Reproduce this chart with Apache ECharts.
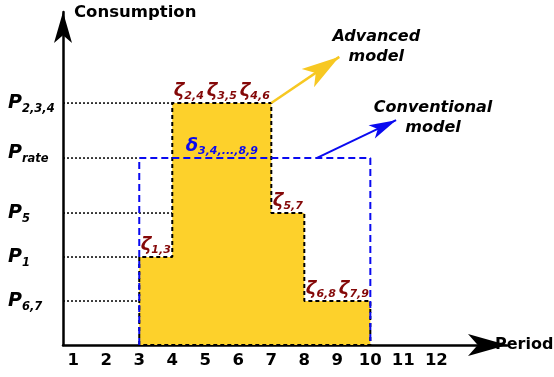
<!DOCTYPE html>
<html>
<head>
<meta charset="utf-8">
<script src="https://cdn.jsdelivr.net/npm/echarts@6/dist/echarts.min.js"></script>
<style>
  html, body { margin: 0; padding: 0; background: #fff; }
  #chart { width: 554px; height: 377px; }
</style>
</head>
<body>
<div id="chart"></div>
<script>
// Periods on the horizontal axis
const periods = [1, 2, 3, 4, 5, 6, 7, 8, 9, 10, 11, 12];

// Consumption levels on the vertical axis (subscript of P, and value)
const levelNames = ['6,7', '1', '5', 'rate', '2,3,4'];
const levelValues = [1, 2, 3, 4.25, 5.5];
// period where each dotted guide meets the profiles
const levelGuideEnd = [3, 3, 4, 3, 4];

// Advanced model: stepwise consumption profile
const advStart = [3, 4, 7, 8];
const advEnd = [4, 7, 8, 10];
const advLevel = [2, 5.5, 3, 1];
// zeta subscripts, one per period 3..9
const zetaPeriods = [3, 4, 5, 6, 7, 8, 9];
const zetaSubs = ['1,3', '2,4', '3,5', '4,6', '5,7', '6,8', '7,9'];

// Conventional model: flat consumption at the rated level
const convStart = 3;
const convEnd = 10;
const convLevel = 4.25;
const deltaPeriod = 5;
const deltaSub = '3,4,...,8,9';

// ---- derived geometry ----
const advOutline = [[advStart[0], 0]];
advStart.forEach((s, i) => {
  advOutline.push([s, advLevel[i]]);
  advOutline.push([advEnd[i], advLevel[i]]);
});
advOutline.push([advEnd[advEnd.length - 1], 0]);
advOutline.push([advStart[0], 0]);

const convOutline = [[convStart, 0], [convStart, convLevel], [convEnd, convLevel], [convEnd, 0]];

function advLevelAt(p) {
  for (let i = 0; i < advStart.length; i++) {
    if (p >= advStart[i] && p < advEnd[i]) return advLevel[i];
  }
  return 0;
}

const FONT = 'DejaVu Sans';
const RED = '#840808';
const BLUE = '#0a0af0';
const GOLD = '#fdd12b';
const X_MIN = 0.69;

const subStyle = (color, size) => ({
  fontFamily: FONT, fontSize: size, fontWeight: 'bold', fontStyle: 'italic',
  color: color, verticalAlign: 'bottom', lineHeight: size
});
const bigStyle = (color, size, lh) => ({
  fontFamily: FONT, fontSize: size, fontWeight: 'bold', fontStyle: 'italic',
  color: color, lineHeight: lh
});

const guideSeries = levelValues.map((v, i) => ({
  type: 'line',
  silent: true,
  symbol: 'none',
  z: 1,
  lineStyle: { color: '#000', width: 1.5, type: [2, 2] },
  data: [[X_MIN, v], [levelGuideEnd[i], v]]
}));

const textSeries = {
  type: 'scatter',
  silent: true,
  symbolSize: 0,
  z: 6,
  itemStyle: { opacity: 1 },
  emphasis: { disabled: true }
};

const chart = echarts.init(document.getElementById('chart'), null, { renderer: 'canvas' });

chart.setOption({
  animation: false,
  backgroundColor: '#fff',
  grid: { left: 63, right: 47, top: 12, bottom: 32, containLabel: false, outerBoundsMode: 'none' },
  xAxis: {
    type: 'value',
    min: X_MIN,
    max: 14.14,
    name: 'Period',
    nameLocation: 'end',
    nameGap: -12,
    nameTextStyle: {
      fontFamily: FONT, fontSize: 16, fontWeight: 'bold', color: '#000',
      align: 'left', verticalAlign: 'middle', padding: [0, 0, 34, 0]
    },
    splitLine: { show: false },
    axisTick: { show: false },
    axisLine: {
      lineStyle: { color: '#000', width: 2.5 },
      symbol: ['none', 'arrow'],
      symbolSize: [16.5, 39]
    },
    axisLabel: {
      customValues: periods,
      margin: 7,
      fontFamily: FONT, fontSize: 16.5, fontWeight: 'bold', color: '#000',
      formatter: v => String(v)
    }
  },
  yAxis: {
    type: 'value',
    min: 0,
    max: 7.57,
    name: 'Consumption',
    nameLocation: 'end',
    nameGap: -1,
    nameTextStyle: {
      fontFamily: FONT, fontSize: 16.5, fontWeight: 'bold', color: '#000',
      align: 'left', verticalAlign: 'middle', padding: [0, 0, 0, 11]
    },
    splitLine: { show: false },
    axisTick: { show: false },
    axisLine: {
      lineStyle: { color: '#000', width: 2.5 },
      symbol: ['none', 'arrow'],
      symbolSize: [13.5, 31]
    },
    axisLabel: {
      customValues: levelValues,
      align: 'left',
      margin: 55,
      formatter: v => {
        const i = levelValues.indexOf(v);
        if (i < 0) return '';
        const name = levelNames[i];
        const lift = name === 'rate' ? '\n{gap|}' : '';
        return '{p|P}{s|' + name + '}' + lift;
      },
      rich: {
        p: bigStyle('#000', 19, 24),
        s: subStyle('#000', 11.5),
        gap: { lineHeight: 10 }
      }
    }
  },
  series: [
    ...guideSeries,
    {
      name: 'Advanced model',
      type: 'line',
      silent: true,
      symbol: 'none',
      z: 3,
      data: advOutline,
      lineStyle: { color: '#000', width: 2, type: [4, 3] },
      areaStyle: { color: GOLD, opacity: 1 },
      markLine: {
        silent: true,
        symbol: ['none', 'arrow'],
        label: { show: false },
        lineStyle: { color: '#f7c822', width: 2.5, type: 'solid' },
        data: [[
          { coord: [7, 5.5] },
          { coord: [9.06, 6.55], symbolSize: [16.5, 38] }
        ]]
      }
    },
    {
      name: 'Conventional model',
      type: 'line',
      silent: true,
      symbol: 'none',
      z: 4,
      data: convOutline,
      lineStyle: { color: BLUE, width: 2, type: [7, 4] },
      markLine: {
        silent: true,
        symbol: ['none', 'arrow'],
        label: { show: false },
        lineStyle: { color: BLUE, width: 2, type: 'solid' },
        data: [[
          { coord: [8.37, convLevel] },
          { coord: [10.78, 5.11], symbolSize: [11, 27] }
        ]]
      }
    },
    Object.assign({}, textSeries, {
      // zeta labels above each advanced step
      data: zetaPeriods.map((p, i) => [p + 0.5, advLevelAt(p), i]),
      label: {
        show: true,
        position: 'top',
        distance: 1,
        formatter: params => '{z|ζ}{s|' + zetaSubs[params.value[2]] + '}',
        rich: {
          z: bigStyle(RED, 18, 21),
          s: subStyle(RED, 11)
        }
      }
    }),
    Object.assign({}, textSeries, {
      // delta label above the rated level
      data: [[deltaPeriod + 0.5, convLevel]],
      label: {
        show: true,
        position: 'top',
        distance: 1,
        formatter: () => '{d|δ}{s|' + deltaSub + '}',
        rich: {
          d: bigStyle(BLUE, 18, 21),
          s: subStyle(BLUE, 11)
        }
      }
    }),
    Object.assign({}, textSeries, {
      // model captions next to the arrows
      data: [[10.18, 6.77, 'Advanced\nmodel'], [11.9, 5.16, 'Conventional\nmodel']],
      label: {
        show: true,
        position: 'inside',
        formatter: params => params.value[2],
        fontFamily: FONT, fontSize: 16, fontWeight: 'bold', fontStyle: 'italic',
        color: '#000', lineHeight: 20, align: 'center'
      }
    })
  ]
});
</script>
</body>
</html>
